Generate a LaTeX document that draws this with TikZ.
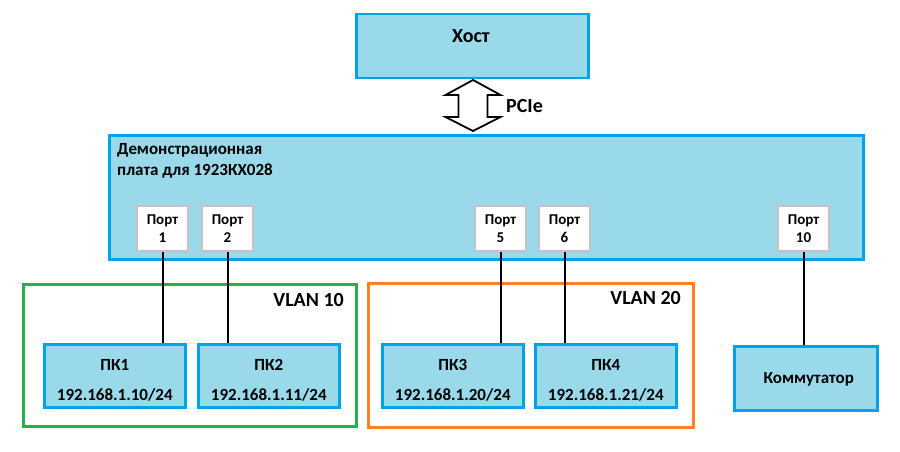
\documentclass[tikz,border=0pt]{standalone}
\usepackage{fontspec}
\setmainfont{Carlito}
\definecolor{boxfill}{HTML}{99D9EA}
\definecolor{boxline}{HTML}{00A2E8}
\definecolor{vgreen}{HTML}{22B14C}
\definecolor{vorange}{HTML}{FF7F27}
\definecolor{portline}{HTML}{C3C3C3}
\tikzset{
  bluebox/.style={draw=boxline, fill=boxfill, line width=2.5pt, rectangle, inner sep=0pt, anchor=north west},
  portbox/.style={draw=portline, fill=white, line width=2pt, rectangle, inner sep=0pt, anchor=north west,
    minimum width=51pt, minimum height=45pt, align=center, font=\fontsize{15}{18}\selectfont\bfseries},
  vlanbox/.style={line width=2.5pt, rectangle, inner sep=0pt, anchor=north west},
  wire/.style={draw=black, line width=2pt},
  lbl/.style={font=\fontsize{17}{20}\selectfont\bfseries, inner sep=0pt},
  biglbl/.style={font=\fontsize{20}{24}\selectfont\bfseries, inner sep=0pt}
}
\begin{document}
\begin{tikzpicture}[x=1pt,y=-1pt]
\useasboundingbox (0,0) rectangle (900,452);
% host
\node[bluebox, minimum width=232pt, minimum height=64pt] (host) at (355,13) {};
\node[biglbl] (hostt) at (471,36) {Хост};
% PCIe arrow
\draw[line width=1.8pt, fill=white, line join=miter]
  (473,80) -- (500.5,95) -- (487.5,95) -- (487.5,117) -- (500.5,117) -- (473,131)
  -- (445.5,117) -- (458.5,117) -- (458.5,95) -- (445.5,95) -- cycle;
\node[biglbl, anchor=west] (pcie) at (506,106) {PCIe};
% board
\node[bluebox, minimum width=754pt, minimum height=124pt] (board) at (108,134) {};
\node[lbl, anchor=north west, align=left, font=\fontsize{17}{21}\selectfont\bfseries] (boardt) at (117,143) {Демонстрационная\\плата для 1923КХ028};
% ports
\node[portbox] (p1) at (136,205) {Порт\\1};
\node[portbox] (p2) at (201,205) {Порт\\2};
\node[portbox] (p5) at (474,205) {Порт\\5};
\node[portbox] (p6) at (538,205) {Порт\\6};
\node[portbox] (p10) at (777,205) {Порт\\10};
% VLAN frames
\node[vlanbox, draw=vgreen, minimum width=333pt, minimum height=142pt] (vlan10) at (22,283) {};
\node[biglbl, anchor=east] (vlan10t) at (344,300) {VLAN 10};
\node[vlanbox, draw=vorange, minimum width=325pt, minimum height=144pt] (vlan20) at (367,282) {};
\node[biglbl, anchor=east] (vlan20t) at (681,298) {VLAN 20};
% PCs
\node[bluebox, minimum width=141pt, minimum height=63pt] (pc1) at (43,343) {};
\node[lbl] (pc1n) at ([yshift=10.5pt]pc1.center) {ПК1};
\node[lbl] (pc1ip) at ([yshift=-19.5pt]pc1.center) {192.168.1.10/24};
\node[bluebox, minimum width=141pt, minimum height=63pt] (pc2) at (197,343) {};
\node[lbl] (pc2n) at ([yshift=10.5pt]pc2.center) {ПК2};
\node[lbl] (pc2ip) at ([yshift=-19.5pt]pc2.center) {192.168.1.11/24};
\node[bluebox, minimum width=141pt, minimum height=63pt] (pc3) at (381,343) {};
\node[lbl] (pc3n) at ([yshift=10.5pt]pc3.center) {ПК3};
\node[lbl] (pc3ip) at ([yshift=-19.5pt]pc3.center) {192.168.1.20/24};
\node[bluebox, minimum width=141pt, minimum height=63pt] (pc4) at (534,343) {};
\node[lbl] (pc4n) at ([yshift=10.5pt]pc4.center) {ПК4};
\node[lbl] (pc4ip) at ([yshift=-19.5pt]pc4.center) {192.168.1.21/24};
% switch
\node[bluebox, minimum width=143pt, minimum height=64pt] (sw) at (733,345) {};
\node[lbl] (swt) at ([xshift=3pt,yshift=-1pt]sw.center) {Коммутатор};
% wires
\draw[wire] (p1.south) -- (p1.south |- pc1.north);
\draw[wire] (p2.south) -- (p2.south |- pc2.north);
\draw[wire] (p5.south) -- (p5.south |- pc3.north);
\draw[wire] (p6.south) -- (p6.south |- pc4.north);
\draw[wire] (p10.south) -- (p10.south |- sw.north);
\end{tikzpicture}
\end{document}
